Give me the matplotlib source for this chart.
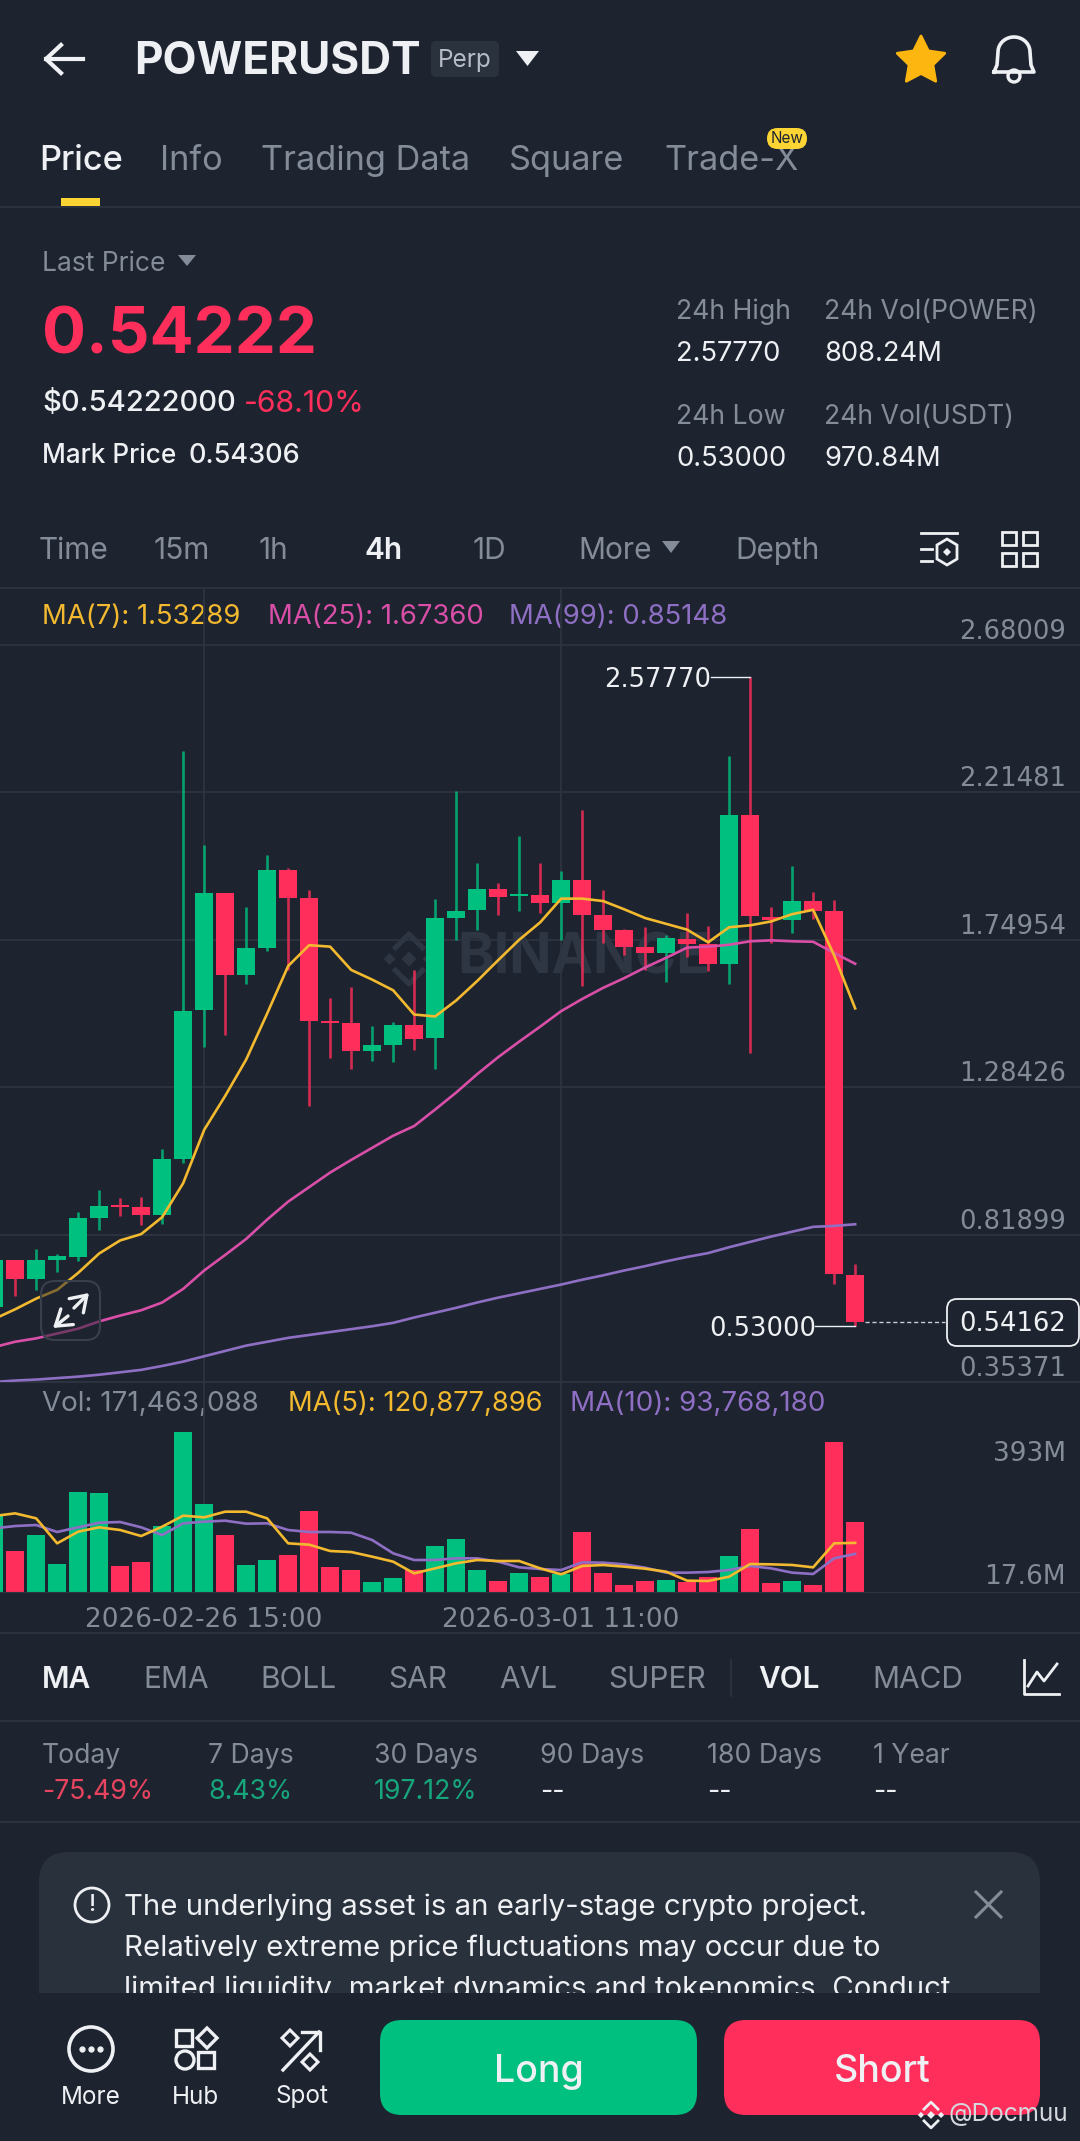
import matplotlib
matplotlib.use("Agg")
import matplotlib.pyplot as plt
import numpy as np
from matplotlib.patches import FancyBboxPatch, Rectangle, Polygon, Circle

# candles
opens = [0.5909, 0.7393, 0.6781, 0.7393, 0.7484, 0.8708, 0.9121, 0.9060, 0.8800, 1.0560, 1.5287, 1.8959, 1.6389, 1.7231,
         1.9694, 1.8822, 1.4920, 1.4859, 1.3987, 1.4186, 1.4798, 1.4385, 1.8179, 1.8424, 1.9082, 1.8883, 1.8898, 1.8668,
         1.9373, 1.8271, 1.7796, 1.7276, 1.7077, 1.7521, 1.7353, 1.6741, 2.1438, 1.8209, 1.8118, 1.8715, 1.8393, 0.6903]
closes = [0.7393, 0.6781, 0.7393, 0.7515, 0.8708, 0.9106, 0.9045, 0.8800, 1.0560, 1.5257, 1.8959, 1.6389, 1.7231, 1.9694,
          1.8806, 1.4935, 1.4859, 1.3987, 1.4186, 1.4798, 1.4369, 1.8179, 1.8409, 1.9082, 1.8852, 1.8944, 1.8668, 1.9373,
          1.8286, 1.7796, 1.7261, 1.7077, 1.7536, 1.7353, 1.6741, 2.1438, 1.8240, 1.8103, 1.8715, 1.8393, 0.6934, 0.5416]
highs = [0.7500, 0.7393, 0.7744, 0.7592, 0.8892, 0.9581, 0.9351, 0.9366, 1.0881, 2.3457, 2.0489, 1.8959, 1.8531, 2.0153,
         1.9755, 1.9066, 1.5654, 1.5991, 1.4782, 1.4905, 1.6542, 1.8776, 2.2188, 1.9923, 1.9296, 2.0780, 1.9908, 1.9679,
         2.1576, 1.9051, 1.7842, 1.7888, 1.7628, 1.8332, 1.7919, 2.3304, 2.5777, 1.8516, 1.9831, 1.9000, 1.8760, 0.7255]
lows = [0.5800, 0.6261, 0.6444, 0.6995, 0.7362, 0.8326, 0.8785, 0.8494, 0.8525, 1.0453, 1.4094, 1.4492, 1.6083, 1.7139,
        1.6542, 1.2243, 1.3757, 1.3421, 1.3681, 1.3620, 1.4002, 1.3406, 1.7475, 1.7796, 1.8271, 1.8409, 1.8347, 1.7490,
        1.6037, 1.7383, 1.6999, 1.6542, 1.6159, 1.6941, 1.6511, 1.6083, 1.3926, 1.7383, 1.7705, 1.8148, 0.6628, 0.5300]

ma7 = [0.5526, 0.5832, 0.6169, 0.6444, 0.6980, 0.7592, 0.8005, 0.8204, 0.8739, 0.9810, 1.1493, 1.2564, 1.3712, 1.5165,
       1.6665, 1.7322, 1.7276, 1.6542, 1.6236, 1.5899, 1.5134, 1.5073, 1.5578, 1.6190, 1.6848, 1.7491, 1.8041, 1.8791,
       1.8791, 1.8715, 1.8455, 1.8179, 1.7996, 1.7812, 1.7414, 1.7888, 1.7949, 1.8072, 1.8301, 1.8439, 1.7001, 1.5329]
ma25 = [0.4639, 0.4807, 0.4914, 0.5067, 0.5220, 0.5449, 0.5633, 0.5801, 0.6046, 0.6475, 0.7056, 0.7546, 0.8051, 0.8663,
        0.9229, 0.9688, 1.0147, 1.0545, 1.0927, 1.1309, 1.1615, 1.2136, 1.2671, 1.3252, 1.3788, 1.4278, 1.4752, 1.5241,
        1.5624, 1.5976, 1.6282, 1.6618, 1.6924, 1.7246, 1.7276, 1.7337, 1.7445, 1.7475, 1.7445, 1.7430, 1.7077, 1.6736]
ma99 = [0.3537, 0.3583, 0.3614, 0.3660, 0.3706, 0.3767, 0.3843, 0.3920, 0.4043, 0.4180, 0.4349, 0.4517, 0.4685, 0.4807,
        0.4930, 0.5021, 0.5113, 0.5205, 0.5297, 0.5404, 0.5572, 0.5725, 0.5878, 0.6046, 0.6199, 0.6337, 0.6475, 0.6612,
        0.6765, 0.6903, 0.7056, 0.7193, 0.7346, 0.7484, 0.7606, 0.7790, 0.7958, 0.8127, 0.8280, 0.8433, 0.8463, 0.8515]

# volume in millions
volume = [189.5, 101.7, 141.1, 68.1, 246.1, 243.7, 64.8, 73.8, 162.4, 394.6, 216.6, 140.3, 67.3, 78.8, 90.2, 199.4, 61.5,
          55.0, 24.6, 33.6, 55.0, 113.2, 130.4, 54.1, 26.3, 47.6, 36.1, 45.1, 147.7, 45.9, 18.0, 27.9, 29.5, 25.4, 37.7,
          89.4, 154.2, 21.3, 27.9, 18.0, 369.2, 171.5]
vol_ma5 = [187.1, 193.6, 181.3, 119.8, 148.5, 159.2, 152.6, 137.8, 160.8, 187.9, 183.8, 197.7, 197.7, 181.3, 119.8, 116.5,
           100.9, 98.4, 87.0, 74.7, 45.9, 58.2, 70.6, 78.8, 76.3, 76.3, 58.2, 43.5, 64.0, 66.5, 62.4, 57.4, 50.0, 27.9,
           27.1, 37.7, 68.9, 68.1, 66.5, 60.7, 119.8, 120.9]
vol_ma10 = [156.7, 162.4, 164.9, 147.7, 159.2, 170.6, 172.3, 159.2, 140.3, 169.0, 173.1, 175.6, 168.2, 169.0, 152.6, 147.7,
            147.7, 146.0, 128.0, 95.2, 78.8, 78.8, 82.9, 82.9, 74.7, 60.7, 56.6, 54.1, 73.0, 72.2, 68.1, 59.9, 47.6, 47.6,
            49.2, 54.1, 64.0, 58.2, 47.6, 44.3, 82.9, 93.8]

price_ticks = [2.68009, 2.21481, 1.74954, 1.28426, 0.81899, 0.35371]
date_ticks = [10, 27]
date_labels = ["2026-02-26 15:00", "2026-03-01 11:00"]
last_price = 0.54162
high_price = 2.57770
low_price = 0.53000

BG = "#1d2430"
GRID = "#2e3542"
UP = "#00c07f"
DOWN = "#ff2e5b"
WHITE = "#eef0f3"
GREY = "#848c99"
YELLOW = "#f3b92f"
PINK = "#d94fa8"
PURPLE = "#8f6fc4"
MARK = "#2f3643"
W, H = 1080, 2141
CHART_FONT = "DejaVu Sans"

plt.rcParams["font.family"] = ["Inter", "DejaVu Sans"]
fig = plt.figure(figsize=(W / 100, H / 100), dpi=100, facecolor=BG)


def box(y0, y1):
    return [0, 1 - y1 / H, 1, (y1 - y0) / H]


ui = fig.add_axes([0, 0, 1, 1], zorder=0)
ui.set_xlim(0, W)
ui.set_ylim(H, 0)
ui.axis("off")
top = fig.add_axes([0, 0, 1, 1], zorder=5)
top.set_xlim(0, W)
top.set_ylim(H, 0)
top.axis("off")


def t(x, y, s, size=19, color=GREY, weight="normal", ha="left", ax=ui, **kw):
    # va center sits a little high for this font
    return ax.text(x, y + 3, s, fontsize=size, color=color, fontweight=weight, ha=ha, va="center", **kw)


def hline(y, x0=0, x1=W):
    ui.plot([x0, x1], [y, y], color=GRID, lw=1.2, solid_capstyle="butt")


def diamond(ax, x, y, r, **kw):
    ax.add_patch(Polygon([(x, y - r), (x + r, y), (x, y + r), (x - r, y)], **kw))


def logo(ax, x, y, r, color):
    diamond(ax, x, y, r * 0.28, fc=color, ec="none")
    diamond(ax, x - r * 0.72, y, r * 0.22, fc=color, ec="none")
    diamond(ax, x + r * 0.72, y, r * 0.22, fc=color, ec="none")
    ax.plot([x - r * 0.5, x, x + r * 0.5], [y - r * 0.42, y - r * 0.92, y - r * 0.42], color=color, lw=r * 0.14)
    ax.plot([x - r * 0.5, x, x + r * 0.5], [y + r * 0.42, y + r * 0.92, y + r * 0.42], color=color, lw=r * 0.14)


# header
ui.plot([46, 83], [59, 59], color=WHITE, lw=3)
ui.plot([61, 46, 61], [45, 59, 73], color=WHITE, lw=3)
t(134, 59, "POWERUSDT", 31.8, WHITE, "bold")
ui.add_patch(FancyBboxPatch((434, 44), 62, 30, boxstyle="round,pad=3,rounding_size=5", fc="#2a323e", ec="none"))
t(465, 58, "Perp", 17.5, "#b7bdc6", ha="center")
ui.add_patch(Polygon([(516, 51), (539, 51), (527.5, 66)], fc=WHITE, ec="none"))
star_a = np.pi / 2 + np.arange(10) * np.pi / 5
star_r = np.where(np.arange(10) % 2 == 0, 25, 12.5)
ui.add_patch(Polygon(np.c_[921 + star_r * np.cos(star_a), 61 - star_r * np.sin(star_a)], fc="#fcb60f", ec="#fcb60f", lw=2, joinstyle="round"))
th = np.linspace(np.pi, 0, 30)
bell_x = np.r_[994, 997, 998 + 16 * (1 + np.cos(th)), 1031, 1034, 994]
bell_y = np.r_[72, 65, 52 + 15 * -np.sin(th), 65, 72, 72]
ui.plot(bell_x, bell_y, color=WHITE, lw=2.6)
ui.add_patch(Circle((1014, 76), 6, fc="none", ec=WHITE, lw=2.4))

# tabs
for x, s in zip([39, 160, 261, 509, 664], ["Price", "Info", "Trading Data", "Square", "Trade-X"]):
    t(x, 158, s, 24.7, WHITE if s == "Price" else GREY, "medium" if s == "Price" else "normal")
ui.add_patch(FancyBboxPatch((767, 128), 40, 21, boxstyle="round,pad=0,rounding_size=10.5", fc="#fcd535", ec="none", zorder=4))
t(787, 135.5, "New", 11, "#1d2430", ha="center", zorder=5)
ui.add_patch(Rectangle((61, 198), 39, 8, fc="#fcd535", ec="none"))
hline(206.5)

# price block
t(42, 261, "Last Price", 19)
ui.add_patch(Polygon([(178, 255), (196, 255), (187, 266)], fc=GREY, ec="none"))
t(42, 333, "0.54222", 47, DOWN, "bold")
t(42, 401, "$0.54222000", 21, WHITE, "medium")
t(244, 401, "-68.10%", 21.8, DOWN)
t(42, 453, "Mark Price", 18.8, WHITE, "medium")
t(188, 453, "0.54306", 19.5, WHITE, "medium")
for x, y, s in [(676, 309, "24h High"), (824, 309, "24h Vol(POWER)"), (676, 414, "24h Low"), (824, 414, "24h Vol(USDT)")]:
    t(x, y, s, 19.2)
for x, y, s in [(676, 351, "2.57770"), (824, 351, "808.24M"), (676, 456, "0.53000"), (824, 456, "970.84M")]:
    t(x, y, s, 19.7, WHITE)

# interval row
for x, s in zip([39, 154, 259, 364, 473, 578, 735], ["Time", "15m", "1h", "4h", "1D", "More", "Depth"]):
    t(x, 548, s, 21.5, WHITE if s == "4h" else GREY, "semibold" if s == "4h" else "normal")
ui.add_patch(Polygon([(662, 541), (680, 541), (671, 553)], fc=GREY, ec="none"))
ui.plot([921, 957], [533, 533], color=WHITE, lw=2)
ui.plot([921, 932], [549, 549], color=WHITE, lw=2)
ui.plot([921, 932], [561, 561], color=WHITE, lw=2)
ui.add_patch(Polygon([(947, 539), (957, 545), (957, 559), (947, 565), (937, 559), (937, 545)], fc="none", ec=WHITE, lw=2))
ui.add_patch(Polygon([(947, 548), (951, 552), (947, 556), (943, 552)], fc=WHITE, ec="none"))
for x0 in [1002, 1023]:
    for y0 in [532, 553]:
        ui.add_patch(Rectangle((x0, y0), 14, 13, fc="none", ec=WHITE, lw=2))
hline(588)

t(42, 614, "MA(7): 1.53289", 19.8, YELLOW)
t(268, 614, "MA(25): 1.67360", 19.8, PINK)
t(509, 614, "MA(99): 0.85148", 19.8, PURPLE)

# watermark under the candles
t(457, 956, "BINANCE", 40, MARK, "bold")
logo(ui, 409, 959, 27, MARK)

# price panel, full width, index and price scales line up with the pixels
x_left = 5.85 / 21
x_right = (W + 5.85) / 21
px_per_price = (1381.6 - 644.8) / (price_ticks[0] - price_ticks[-1])
idx = np.arange(len(opens))
ax = fig.add_axes(box(589, 1382), zorder=1, facecolor="none")
ax.set_xlim(x_left, x_right)
ax.set_ylim(price_ticks[-1], price_ticks[-1] + (1381.6 - 589) / px_per_price)
ax.set_axis_off()
for p in price_ticks:
    ax.axhline(p, color=GRID, lw=1.2, zorder=1)
    ax.annotate(f"{p:.5f}", (1, p), xycoords=("axes fraction", "data"), xytext=(-14 / 1.389, 0), textcoords="offset points",
                ha="right", va="bottom", fontsize=18.6, color=GREY, family=CHART_FONT, annotation_clip=False)
for d in date_ticks:
    ax.axvline(d, color=GRID, lw=1.2, zorder=1)

colors = [UP if c >= o else DOWN for o, c in zip(opens, closes)]
ax.vlines(idx, lows, highs, colors=colors, lw=1.9, alpha=0.8, zorder=2)
ax.bar(idx, np.abs(np.array(closes) - np.array(opens)), bottom=np.minimum(opens, closes), width=0.885, color=colors, zorder=3)
ax.plot(idx, ma99, color=PURPLE, lw=1.9, zorder=4)
ax.plot(idx, ma25, color=PINK, lw=1.9, zorder=4)
ax.plot(idx, ma7, color=YELLOW, lw=1.9, zorder=4)

# high, low and last price marks
hi_i = int(np.argmax(highs))
lo_i = int(np.argmin(lows))
last_i = idx[-1]
ax.plot([hi_i - 1.85, hi_i], [high_price, high_price], color=WHITE, lw=1, zorder=5)
ax.annotate(f"{high_price:.5f}", (hi_i - 1.85, high_price), xytext=(0, -2), textcoords="offset points", color=WHITE, fontsize=18.6,
            family=CHART_FONT, ha="right", va="center", zorder=6)
ax.plot([lo_i - 1.9, lo_i], [low_price, low_price], color=WHITE, lw=1, zorder=5)
ax.annotate(f"{low_price:.5f}", (lo_i - 1.87, low_price), xytext=(0, -2), textcoords="offset points", color=WHITE, fontsize=18.6,
            family=CHART_FONT, ha="right", va="center", zorder=6)
ax.plot([last_i + 0.45, last_i + 4.3], [last_price, last_price], color="#c9ccd1", lw=1, ls=(0, (3, 2)), zorder=5)
top.add_patch(FancyBboxPatch((953, 1305), 120, 35, boxstyle="round,pad=6,rounding_size=10", fc=BG, ec=WHITE, lw=1.3))
t(1013, 1321, f"{last_price:.5f}", 18.6, WHITE, ha="center", ax=top, family=CHART_FONT)

# expand button
top.add_patch(FancyBboxPatch((41, 1281), 59, 59, boxstyle="round,pad=0,rounding_size=14", fc="#1d243080", ec="#3a404b", lw=1.5))
for tip, tail in [((89, 1293), (74, 1308)), ((53, 1328), (68, 1316))]:
    top.annotate("", xy=tip, xytext=tail, arrowprops=dict(arrowstyle="->,head_width=0.3,head_length=0.45", color=WHITE, lw=2.4,
                                                          mutation_scale=24, shrinkA=0, shrinkB=0))

# volume panel
t(42, 1401, "Vol: 171,463,088", 20)
t(288, 1401, "MA(5): 120,877,896", 19.7, YELLOW)
t(570, 1401, "MA(10): 93,768,180", 20, PURPLE)
vol_ax = fig.add_axes(box(1382, 1592), zorder=1, facecolor="none")
vol_ax.set_xlim(x_left, x_right)
vol_ax.set_ylim(0, 210 / 0.4062)
vol_ax.bar(idx, volume, width=0.885, color=colors, zorder=2)
vol_ax.plot(idx, vol_ma10, color=PURPLE, lw=1.9, zorder=3)
vol_ax.plot(idx, vol_ma5, color=YELLOW, lw=1.9, zorder=3)
for d in date_ticks:
    vol_ax.axvline(d, color=GRID, lw=1.2, zorder=1)
vol_ax.set_xticks(date_ticks, date_labels, fontsize=19, color=GREY, family=CHART_FONT)
vol_ax.tick_params(axis="x", length=0, pad=11)
vol_ax.set_yticks([])
for name, spine in vol_ax.spines.items():
    spine.set_visible(name == "bottom")
    spine.set_color(GRID)
for y, s in [(1451, "393M"), (1574, "17.6M")]:
    t(1066, y, s, 19, ha="right", family=CHART_FONT)
ui.plot([0, W], [1382, 1382], color=GRID, lw=1.2)
hline(1633)

# indicator tabs
for x, s in zip([42, 143, 260, 388, 499, 608, 758, 872], ["MA", "EMA", "BOLL", "SAR", "AVL", "SUPER", "VOL", "MACD"]):
    on = s in ("MA", "VOL")
    t(x, 1677, s, 21.5, WHITE if on else GREY, "semibold" if on else "normal")
ui.plot([731, 731], [1660, 1696], color=GRID, lw=1.2)
ui.plot([1024, 1024, 1059], [1660, 1694, 1694], color=WHITE, lw=2)
ui.plot([1028, 1037, 1044, 1057], [1686, 1672, 1681, 1664], color=WHITE, lw=2)
hline(1721)

# returns
for x, s, v, c in zip([42, 208, 374, 540, 707, 873], ["Today", "7 Days", "30 Days", "90 Days", "180 Days", "1 Year"],
                      ["-75.49%", "8.43%", "197.12%", "--", "--", "--"], ["#e8435f", "#17a67b", "#17a67b", WHITE, WHITE, WHITE]):
    t(x, 1753, s, 19.2)
    t(x, 1789, v, 19.2, c)
hline(1822)

# notice card
ui.add_patch(FancyBboxPatch((39, 1852), 1001, 200, boxstyle="round,pad=0,rounding_size=30", fc="#29313d", ec="none"))
ui.add_patch(Circle((92, 1905), 17, fc="none", ec=WHITE, lw=2))
t(92, 1902, "!", 17, WHITE, "medium", ha="center")
t(124, 1904, "The underlying asset is an early-stage crypto project.", 21.2, WHITE)
t(124, 1945, "Relatively extreme price fluctuations may occur due to", 21.2, WHITE)
t(124, 1986, "limited liquidity, market dynamics and tokenomics. Conduct", 21.2, WHITE)
ui.plot([976, 1001], [1892, 1917], color=GREY, lw=2.2)
ui.plot([976, 1001], [1917, 1892], color=GREY, lw=2.2)

# bottom bar
top.add_patch(Rectangle((0, 1993), W, H - 1993, fc=BG, ec="none"))
top.add_patch(Circle((91, 2049), 22, fc="none", ec=WHITE, lw=2.6))
top.plot([82, 91, 100], [2049, 2049, 2049], ls="none", marker="o", ms=3.5, color=WHITE)
top.add_patch(Rectangle((176, 2030), 16, 16, fc="none", ec=WHITE, lw=2.4))
diamond(top, 207, 2038, 10, fc="none", ec=WHITE, lw=2.4)
top.add_patch(Circle((185, 2060), 9, fc="none", ec=WHITE, lw=2.4))
top.add_patch(Rectangle((198, 2052), 16, 16, fc="none", ec=WHITE, lw=2.4))
top.plot([283, 319], [2070, 2032], color=WHITE, lw=2.4)
top.plot([302, 320, 320], [2032, 2032, 2050], color=WHITE, lw=2.4)
diamond(top, 290, 2038, 8, fc="none", ec=WHITE, lw=2.2)
diamond(top, 310, 2062, 8, fc="none", ec=WHITE, lw=2.2)
for x, s in [(91, "More"), (196, "Hub"), (302, "Spot")]:
    t(x, 2094, s, 17.5, WHITE, ha="center", ax=top)
top.add_patch(FancyBboxPatch((380, 2020), 317, 95, boxstyle="round,pad=0,rounding_size=22", fc=UP, ec="none"))
top.add_patch(FancyBboxPatch((724, 2020), 316, 95, boxstyle="round,pad=0,rounding_size=22", fc=DOWN, ec="none"))
t(539, 2069, "Long", 27, WHITE, "medium", ha="center", ax=top)
t(882, 2069, "Short", 27, WHITE, "medium", ha="center", ax=top)
logo(top, 931, 2115, 14, WHITE)
t(948, 2112, "@Docmuu", 17.5, "#d5d8dd", ax=top)

fig.savefig("out.png", dpi=100, facecolor=BG)
